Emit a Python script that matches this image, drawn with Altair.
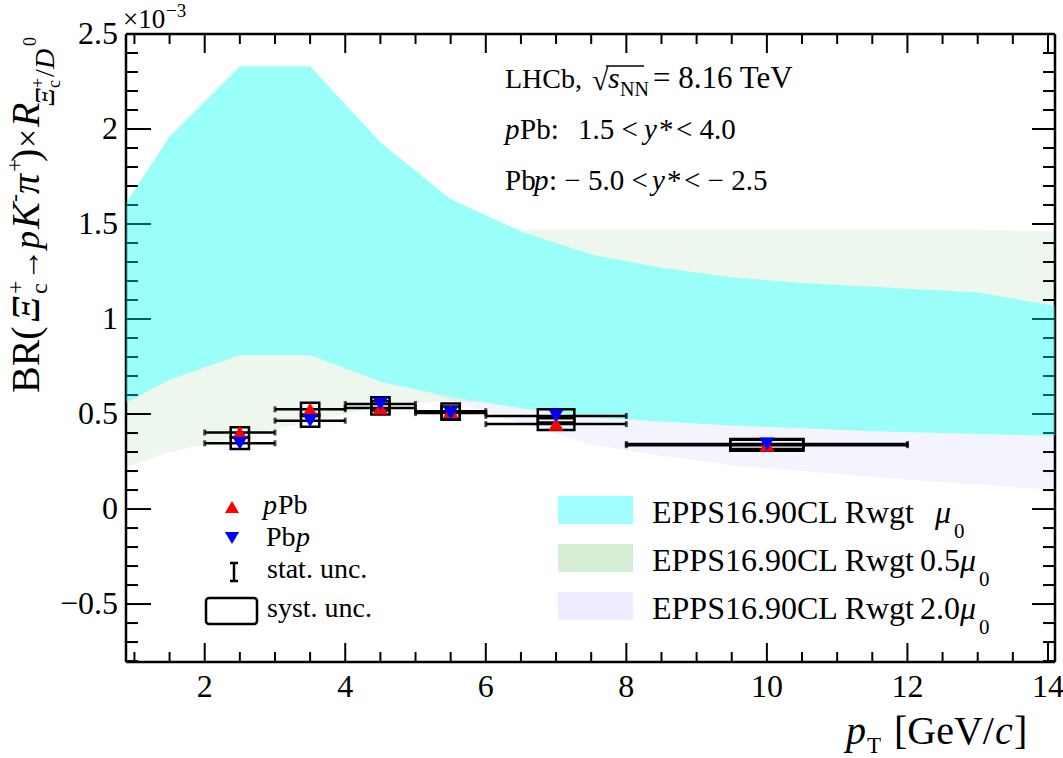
import altair as alt
import pandas as pd

# ---------------- data ----------------
bin_lo = [2, 3, 4, 5, 6, 8]
bin_hi = [3, 4, 5, 6, 8, 12]
bin_mid = [2.5, 3.5, 4.5, 5.5, 7, 10]

ppb_val = [0.403, 0.525, 0.532, 0.515, 0.447, 0.336]
ppb_stat = [0.012, 0.012, 0.010, 0.008, 0.010, 0.008]
ppb_syst = [0.027, 0.035, 0.035, 0.040, 0.031, 0.029]

pbp_val = [0.346, 0.465, 0.553, 0.505, 0.490, 0.342]
pbp_stat = [0.012, 0.012, 0.010, 0.008, 0.010, 0.008]
pbp_syst = [0.030, 0.032, 0.035, 0.035, 0.035, 0.026]

band_x = [0.88, 1.5, 2.5, 3.5, 4.5, 5.5, 6.5, 7.5, 8.5, 9.5, 10.5, 11.5, 12.5, 13.0, 14.1]
mu0_hi = [1.61, 1.96, 2.33, 2.33, 1.93, 1.63, 1.46, 1.34, 1.27, 1.22, 1.19, 1.17, 1.15, 1.14, 1.07]
mu0_lo = [0.56, 0.68, 0.81, 0.81, 0.67, 0.59, 0.53, 0.485, 0.46, 0.44, 0.425, 0.41, 0.40, 0.395, 0.385]
half_hi = [0.75, 1.05, 1.60, 1.93, 1.87, 1.58, 1.47, 1.47, 1.47, 1.47, 1.47, 1.47, 1.47, 1.47, 1.46]
half_lo = [0.22, 0.30, 0.38, 0.46, 0.54, 0.57, 0.55, 0.53, 0.51, 0.50, 0.49, 0.48, 0.47, 0.47, 0.46]
two_hi = [1.25, 1.55, 1.85, 1.90, 1.60, 1.35, 1.20, 1.10, 1.03, 0.98, 0.95, 0.93, 0.91, 0.90, 0.88]
two_lo = [0.75, 0.85, 0.92, 0.88, 0.72, 0.57, 0.45, 0.34, 0.28, 0.23, 0.20, 0.17, 0.14, 0.13, 0.10]

x_major = [2, 4, 6, 8, 10, 12, 14]
x_labels = ["2", "4", "6", "8", "10", "12", "14"]
y_major = [-0.5, 0, 0.5, 1, 1.5, 2, 2.5]
y_labels = ["\u22120.5", "0", "0.5", "1", "1.5", "2", "2.5"]

# ---------------- layout ----------------
X_MIN, X_MAX = 0.88, 14.1
Y_MIN, Y_MAX = -0.805, 2.5
W, H = 929, 628
PX0, PY0 = 126, 34
FONT = "Liberation Serif"

xs = alt.Scale(domain=[X_MIN, X_MAX], nice=False, zero=False)
ys = alt.Scale(domain=[Y_MIN, Y_MAX], nice=False, zero=False)

x_minor = [v / 2 for v in range(2, 29) if (v / 2) not in x_major]
y_minor = [round(v / 10, 1) for v in range(-8, 25) if round(v / 10, 1) not in y_major]

one = pd.DataFrame({"a": [0]})


def xtick_layer(vals, length, top):
    df = pd.DataFrame({"x": vals})
    if top:
        yy, yy2 = alt.value(0), alt.value(length)
    else:
        yy, yy2 = alt.value(H), alt.value(H - length)
    return alt.Chart(df).mark_rule(color="black", strokeWidth=2).encode(
        x=alt.X("x:Q", scale=xs, axis=None), y=yy, y2=yy2)


def ytick_layer(vals, length, right):
    df = pd.DataFrame({"y": vals})
    if right:
        xx, xx2 = alt.value(W), alt.value(W - length)
    else:
        xx, xx2 = alt.value(0), alt.value(length)
    return alt.Chart(df).mark_rule(color="black", strokeWidth=2).encode(
        y=alt.Y("y:Q", scale=ys, axis=None), x=xx, x2=xx2)


def txt(text, px, py, size, italic=False, angle=0, align="left", baseline="alphabetic"):
    df = pd.DataFrame({"t": [text]})
    return alt.Chart(df).mark_text(
        font=FONT, fontSize=size, fontStyle="italic" if italic else "normal",
        angle=angle, align=align, baseline=baseline, color="black"
    ).encode(text="t:N", x=alt.value(px - PX0), y=alt.value(py - PY0))


def rect_px(x0, y0, x1, y1, **kw):
    return alt.Chart(one).mark_rect(**kw).encode(
        x=alt.value(x0 - PX0), x2=alt.value(x1 - PX0),
        y=alt.value(y0 - PY0), y2=alt.value(y1 - PY0))


def hline_px(x0, x1, y, sw=2.5):
    return alt.Chart(one).mark_rule(color="black", strokeWidth=sw).encode(
        x=alt.value(x0), x2=alt.value(x1), y=alt.value(y))


def vline_px(x, y0, y1, sw=2.5):
    return alt.Chart(one).mark_rule(color="black", strokeWidth=sw).encode(
        x=alt.value(x), y=alt.value(y0), y2=alt.value(y1))


# tick labels
xlab_df = pd.DataFrame({"x": x_major, "t": x_labels})
xlab = alt.Chart(xlab_df).mark_text(font=FONT, fontSize=32, color="black", align="center",
                                    baseline="alphabetic").encode(
    x=alt.X("x:Q", scale=xs, axis=None), y=alt.value(H + 35), text="t:N")
ylab_df = pd.DataFrame({"y": y_major, "t": y_labels})
ylab = alt.Chart(ylab_df).mark_text(font=FONT, fontSize=32, color="black", align="right",
                                    baseline="middle").encode(
    y=alt.Y("y:Q", scale=ys, axis=None), x=alt.value(-8), text="t:N")

frame = [hline_px(0, W, 0), hline_px(0, W, H), vline_px(0, 0, H), vline_px(W, 0, H)]

ticks = [
    xtick_layer(x_major, 19, False), xtick_layer(x_minor, 10, False),
    xtick_layer(x_major, 19, True), xtick_layer(x_minor, 10, True),
    ytick_layer(y_major, 25, False), ytick_layer(y_minor, 12, False),
    ytick_layer(y_major, 23, True), ytick_layer(y_minor, 12, True),
]

bands_df = pd.DataFrame({"x": band_x, "mu0_hi": mu0_hi, "mu0_lo": mu0_lo,
                         "half_hi": half_hi, "half_lo": half_lo,
                         "two_hi": two_hi, "two_lo": two_lo})


def band(hi, lo, **kw):
    return alt.Chart(bands_df).mark_area(**kw).encode(
        x=alt.X("x:Q", scale=xs, axis=None), y=alt.Y(hi + ":Q", scale=ys, axis=None), y2=lo + ":Q")


band_half = band("half_hi", "half_lo", color="#2ca02c", opacity=0.085)
band_two = band("two_hi", "two_lo", color="#6a6aff", opacity=0.07)
band_mask = band("mu0_hi", "mu0_lo", color="#f4fff4", opacity=1)
band_mu0 = band("mu0_hi", "mu0_lo", color="#00ffff", opacity=0.37)

rows = []
for i in range(len(bin_mid)):
    w = 0.13 * (bin_hi[i] - bin_lo[i])
    for name, vals, st, sy in (("pPb", ppb_val, ppb_stat, ppb_syst), ("Pbp", pbp_val, pbp_stat, pbp_syst)):
        rows.append(dict(sys=name, lo=bin_lo[i], hi=bin_hi[i], mid=bin_mid[i], v=vals[i],
                         s_lo=vals[i] - st[i], s_hi=vals[i] + st[i],
                         b_lo=vals[i] - sy[i], b_hi=vals[i] + sy[i],
                         bx0=bin_mid[i] - w, bx1=bin_mid[i] + w))
pts = pd.DataFrame(rows)

X = lambda f: alt.X(f + ":Q", scale=xs, axis=None)
Y = lambda f: alt.Y(f + ":Q", scale=ys, axis=None)

xerr = alt.Chart(pts).mark_rule(color="black", strokeWidth=2.5).encode(x=X("lo"), x2="hi:Q", y=Y("v"))
cap_lo = alt.Chart(pts).mark_tick(color="black", orient="vertical", size=6, thickness=3).encode(
    x=X("lo"), y=Y("v"))
cap_hi = alt.Chart(pts).mark_tick(color="black", orient="vertical", size=6, thickness=3).encode(
    x=X("hi"), y=Y("v"))
boxes = alt.Chart(pts).mark_rect(fill="white", fillOpacity=0, stroke="black", strokeWidth=2.5).encode(
    x=X("bx0"), x2="bx1:Q", y=Y("b_lo"), y2="b_hi:Q")
stat = alt.Chart(pts).mark_rule(color="black", strokeWidth=2.5).encode(
    x=X("mid"), y=Y("s_lo"), y2="s_hi:Q")
mk_ppb = alt.Chart(pts).transform_filter(alt.datum.sys == "pPb").mark_point(
    shape="triangle-up", filled=True, color="#ff0000", size=230, opacity=1).encode(x=X("mid"), y=Y("v"))
mk_pbp = alt.Chart(pts).transform_filter(alt.datum.sys == "Pbp").mark_point(
    shape="triangle-down", filled=True, color="#0000ff", size=230, opacity=1).encode(x=X("mid"), y=Y("v"))

# ---------------- legends ----------------
leg_up = alt.Chart(one).mark_point(shape="triangle-up", filled=True, color="#ff0000",
                                   size=200, opacity=1).encode(
    x=alt.value(232 - PX0), y=alt.value(507 - PY0))
leg_dn = alt.Chart(one).mark_point(shape="triangle-down", filled=True, color="#0000ff",
                                   size=200, opacity=1).encode(
    x=alt.value(232 - PX0), y=alt.value(538 - PY0))
leg_stat = [vline_px(234 - PX0, 563 - PY0, 581 - PY0),
            hline_px(230 - PX0, 238 - PX0, 563 - PY0),
            hline_px(230 - PX0, 238 - PX0, 581 - PY0)]
leg_box = rect_px(206, 598, 257, 624, fill="white", fillOpacity=0, stroke="black",
                  strokeWidth=2.5, cornerRadius=3)

leg_cyan = rect_px(558, 496, 633, 524, color="#00ffff", opacity=0.37)
leg_green = rect_px(558, 544, 633, 572, color="#2ca02c", opacity=0.2)
leg_lav = rect_px(558, 592, 633, 620, color="#6a6aff", opacity=0.12)

texts = [
    # left legend
    txt("p", 263, 514, 28, italic=True), txt("Pb", 278, 514, 28),
    txt("Pb", 266, 546, 28), txt("p", 296, 546, 28, italic=True),
    txt("stat. unc.", 267, 578, 28), txt("syst. unc.", 267, 617, 28),
    # right legend
    txt("EPPS16.90CL Rwgt", 652, 523, 32), txt("\u03bc", 935, 523, 32, italic=True),
    txt("0", 954, 538, 21),
    txt("EPPS16.90CL Rwgt", 652, 571, 32), txt("0.5", 920, 571, 32),
    txt("\u03bc", 960, 571, 32, italic=True), txt("0", 979, 586, 21),
    txt("EPPS16.90CL Rwgt", 652, 619, 32), txt("2.0", 920, 619, 32),
    txt("\u03bc", 960, 619, 32, italic=True), txt("0", 979, 634, 21),
    # top-right annotation
    txt("LHCb,", 505, 88, 28), txt("\u221a", 592, 90, 30),
    txt("s", 608, 88, 30, italic=True), txt("NN", 620, 96, 20),
    txt("= 8.16 TeV", 653, 88, 31),
    txt("p", 505, 139, 29, italic=True), txt("Pb:", 520, 139, 29),
    txt("1.5 <", 578, 139, 29), txt("y", 644, 139, 29, italic=True),
    txt("*", 659, 139, 29), txt("< 4.0", 676, 139, 29),
    txt("Pb", 505, 190, 29), txt("p", 534, 190, 29, italic=True),
    txt(": \u2212 5.0 <", 549, 190, 29), txt("y", 652, 190, 29, italic=True),
    txt("*", 667, 190, 29), txt("< \u2212 2.5", 684, 190, 29),
    # exponent
    txt("\u00d710", 123, 28, 27), txt("\u22123", 166, 17, 19),
    # x title
    txt("p", 846, 744, 40, italic=True), txt("T", 867, 753, 23),
    txt("[GeV/", 894, 744, 40), txt("c", 995, 744, 40, italic=True),
    txt("]", 1014, 744, 40),
    # y title (rotated)
    txt("BR(", 39, 393, 40, angle=270),
    txt("\u039e", 39, 322, 40, italic=True, angle=270),
    txt("c", 47, 294, 24, angle=270), txt("+", 23, 294, 24, angle=270),
    txt("\u2192", 39, 281, 32, angle=270),
    txt("p", 39, 249, 36, italic=True, angle=270),
    txt("K", 39, 229, 40, italic=True, angle=270),
    txt("-", 22, 202, 24, angle=270),
    txt("\u03c0", 39, 194, 40, italic=True, angle=270),
    txt("+", 22, 172, 24, angle=270),
    txt(")", 39, 162, 40, angle=270),
    txt("\u00d7", 39, 148, 34, angle=270),
    txt("R", 39, 127, 40, italic=True, angle=270),
    txt("\u039e", 54, 106, 28, italic=True, angle=270),
    txt("c", 60, 88, 18, angle=270), txt("+", 44, 88, 18, angle=270),
    txt("/", 54, 77, 28, angle=270),
    txt("D", 54, 69, 28, italic=True, angle=270),
    txt("0", 36, 46, 18, angle=270),
]

sqrt_bar = alt.Chart(one).mark_rule(color="black", strokeWidth=1.5).encode(
    x=alt.value(606 - PX0), x2=alt.value(644 - PX0), y=alt.value(66 - PY0))

chart = alt.layer(
    band_half, band_two, band_mask, *frame, *ticks, band_mu0,
    boxes, xerr, cap_lo, cap_hi, stat, mk_ppb, mk_pbp,
    xlab, ylab,
    leg_up, leg_dn, *leg_stat, leg_box,
    leg_cyan, leg_green, leg_lav, sqrt_bar, *texts
).properties(
    width=W, height=H,
    autosize=alt.AutoSizeParams(type="none"),
    padding={"left": PX0, "top": PY0, "right": 1063 - PX0 - W, "bottom": 758 - PY0 - H},
).configure_view(strokeWidth=0).configure(background="white")

chart.save("out.html", embed_options={"renderer": "svg", "actions": False})
